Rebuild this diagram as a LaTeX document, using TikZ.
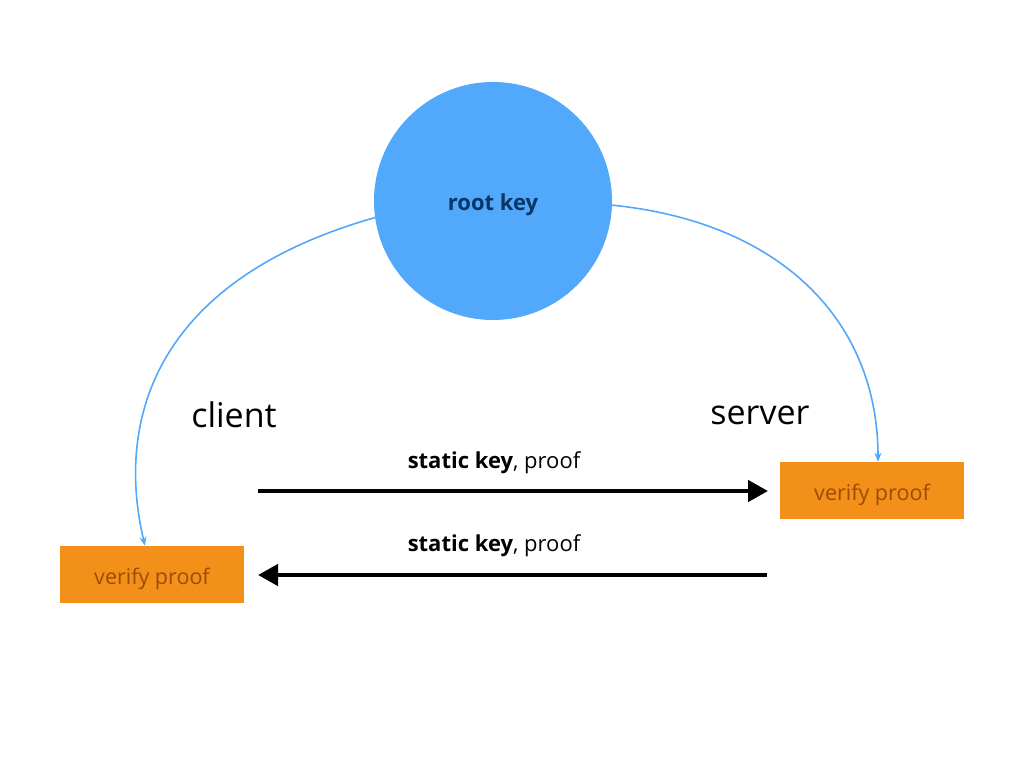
\documentclass[tikz,border=0pt]{standalone}
\usepackage{fontspec}
\setmainfont{Open Sans}
\usetikzlibrary{arrows.meta}
\definecolor{c0}{HTML}{52A8FA}
\definecolor{c1}{HTML}{F39019}
\definecolor{c2}{HTML}{9C4C08}
\definecolor{c3}{HTML}{0A3666}
\tikzset{%
  keynode/.style={circle,fill=c0,minimum size=238pt,inner sep=0pt,text height=20pt,text depth=1pt,font=\fontsize{22}{26}\selectfont\bfseries,text=c3},
  verify/.style={rectangle,fill=c1,minimum width=184pt,minimum height=57pt,inner sep=0pt,text height=20pt,text depth=1pt,font=\fontsize{21.5}{26}\selectfont,text=c2},
  party/.style={font=\fontsize{34}{40}\selectfont},
  msg/.style={font=\fontsize{22}{26}\selectfont},
  derive/.style={c0,line width=1.6pt,-{Stealth[length=9pt,width=7pt]}},
  send/.style={line width=4.5pt,-{Triangle[length=20pt,width=21pt]}}
}

\begin{document}
\begin{tikzpicture}[x=1pt,y=-1pt]
  \useasboundingbox (0,0) rectangle (1024,768);
  \node[keynode] (root) at (493,201) {root key};
  \node[verify] (lverify) at (152,574.5) {verify proof};
  \node[verify] (rverify) at (872,490.5) {verify proof};
  \node[party] (client) at (234,415) {client};
  \node[party] (server) at (760,415) {server};
  \coordinate (a0) at (258,491);
  \coordinate (a1) at (768,491);
  \coordinate (b0) at (767,575);
  \coordinate (b1) at (258,575);
  \node[msg] (m0) at (494,463) {\textbf{static key}, proof};
  \node[msg] (m1) at (494,546) {\textbf{static key}, proof};
  \draw[send] (a0)--(a1);
  \draw[send] (b0)--(b1);
  %%%
  \draw[derive] (root.188) .. controls (155,280) and (115,420) .. ([xshift=-7pt]lverify.north);
  \draw[derive] (root.-2) .. controls (780,222) and (878,320) .. ([xshift=6pt]rverify.north);
\end{tikzpicture}
\end{document}
